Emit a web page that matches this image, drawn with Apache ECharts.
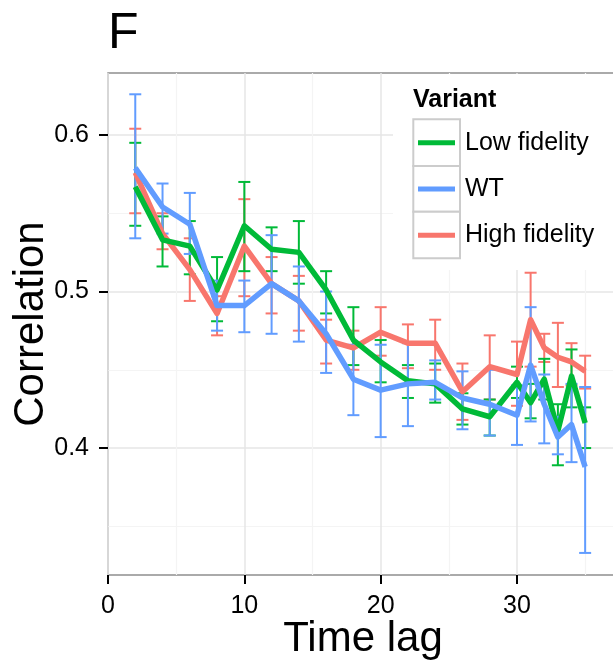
<!DOCTYPE html>
<html>
<head>
<meta charset="utf-8">
<script src="https://cdn.jsdelivr.net/npm/echarts@6/dist/echarts.min.js"></script>
<style>
html,body{margin:0;padding:0;background:#fff;}
#chart{width:613px;height:662px;}
</style>
</head>
<body>
<div id="chart"></div>
<script>
// ---- data ----
const timeLag = [2,4,6,8,10,12,14,16,18,20,22,24,26,28,30,31,32,33,34,35];

const lowMean = [0.567,0.533,0.529,0.501,0.542,0.527,0.525,0.501,0.469,0.455,0.443,0.441,0.425,0.420,0.442,0.429,0.444,0.411,0.446,0.416];
const lowLo   = [0.542,0.516,0.511,0.481,0.513,0.513,0.505,0.486,0.453,0.442,0.432,0.429,0.415,0.408,0.432,0.419,0.431,0.389,0.426,0.400];
const lowHi   = [0.595,0.548,0.545,0.522,0.570,0.541,0.545,0.513,0.490,0.469,0.453,0.454,0.435,0.431,0.452,0.441,0.457,0.428,0.463,0.426];

const wtMean = [0.579,0.554,0.543,0.491,0.491,0.505,0.494,0.473,0.444,0.437,0.441,0.442,0.432,0.428,0.421,0.453,0.428,0.407,0.415,0.388];
const wtLo   = [0.534,0.537,0.524,0.475,0.474,0.473,0.468,0.448,0.421,0.407,0.414,0.431,0.412,0.408,0.402,0.417,0.403,0.396,0.391,0.333];
const wtHi   = [0.626,0.569,0.563,0.507,0.507,0.536,0.516,0.500,0.466,0.466,0.467,0.456,0.449,0.450,0.440,0.490,0.447,0.420,0.441,0.439];

const highMean = [0.576,0.537,0.514,0.486,0.529,0.505,0.494,0.469,0.464,0.474,0.467,0.467,0.436,0.452,0.447,0.482,0.464,0.458,0.455,0.449];
const highLo   = [0.550,0.527,0.494,0.472,0.497,0.486,0.475,0.454,0.450,0.459,0.451,0.450,0.418,0.431,0.427,0.452,0.455,0.439,0.440,0.438];
const highHi   = [0.604,0.550,0.534,0.497,0.559,0.522,0.510,0.482,0.475,0.490,0.479,0.482,0.454,0.472,0.468,0.512,0.473,0.480,0.467,0.459];

const variantNames = ['Low fidelity','WT','High fidelity'];
const yMajorTicks = [0.4,0.5,0.6];
const yMinorTicks = [0.35,0.45,0.55];

// ---- style ----
const COLORS = {'Low fidelity':'#00BA38','WT':'#619CFF','High fidelity':'#F8766D'};
const FONT = "'Liberation Sans', Arial, sans-serif";
const Y_MIN = 0.3189, Y_MAX = 0.6396;

function pts(ys){ return timeLag.map((x,i)=>[x, ys[i]]); }
function bars(lo,hi){ return timeLag.map((x,i)=>[x, lo[i], hi[i]]); }

function errSeries(name, lo, hi){
  const color = COLORS[name];
  return {
    type:'custom', name: name + ' (error)', z:2, silent:true,
    encode:{x:0, y:[1,2]},
    data: bars(lo,hi),
    renderItem: function(params, api){
      const x = api.value(0);
      const a = api.coord([x, api.value(1)]);
      const b = api.coord([x, api.value(2)]);
      const hw = 6;
      const st = {stroke: color, lineWidth: 2};
      return {type:'group', children:[
        {type:'line', shape:{x1:a[0],y1:a[1],x2:b[0],y2:b[1]}, style:st},
        {type:'line', shape:{x1:a[0]-hw,y1:a[1],x2:a[0]+hw,y2:a[1]}, style:st},
        {type:'line', shape:{x1:b[0]-hw,y1:b[1],x2:b[0]+hw,y2:b[1]}, style:st}
      ]};
    }
  };
}
function lineSeries(name, ys){
  return {
    type:'line', name:name, z:2, silent:true, symbol:'none', animation:false,
    data: pts(ys),
    itemStyle:{color:COLORS[name]},
    lineStyle:{color:COLORS[name], width:5.5, join:'round'}
  };
}

const legendRowsCenter = [142.7, 189, 235.3];
const legends = variantNames.map((n,i)=>({
  data:[n], orient:'vertical', left:418, top: legendRowsCenter[i]-15,
  padding:0, icon:'rect', itemWidth:37, itemHeight:5, selectedMode:false,
  textStyle:{fontFamily:FONT, fontSize:25, color:'#000', lineHeight:30, padding:[0,0,0,5]}
}));

const chart = echarts.init(document.getElementById('chart'), null, {renderer:'canvas'});
chart.setOption({
  animation:false,
  backgroundColor:'#fff',
  textStyle:{fontFamily:FONT},
  grid:{left:108, top:73, width:510, height:502, show:true, borderColor:'#8f8f8f', borderWidth:1.5, backgroundColor:'#fff', containLabel:false, outerBoundsMode:'none'},
  xAxis:{
    type:'value', min:0, max:37.41, interval:10,
    name:'Time lag', nameLocation:'middle', nameGap:43, nameMoveOverlap:false,
    nameTextStyle:{fontFamily:FONT, fontSize:42, color:'#000'},
    axisLine:{show:false},
    axisTick:{show:true, length:9, lineStyle:{color:'#000', width:2}},
    axisLabel:{fontFamily:FONT, fontSize:25, color:'#000', margin:19, showMaxLabel:false},
    splitLine:{show:true, lineStyle:{color:'#e6e6e6', width:1.5}},
    minorTick:{show:false, splitNumber:2},
    minorSplitLine:{show:true, lineStyle:{color:'#f4f4f4', width:1.2}}
  },
  yAxis:[{
    type:'value', min:Y_MIN, max:Y_MAX,
    name:'Correlation', nameLocation:'middle', nameGap:56, nameRotate:90, nameMoveOverlap:false,
    nameTextStyle:{fontFamily:FONT, fontSize:42, color:'#000'},
    axisLine:{show:false},
    axisTick:{show:true, length:9, lineStyle:{color:'#000', width:2}, customValues:yMajorTicks},
    axisLabel:{fontFamily:FONT, fontSize:25, color:'#000', margin:19, customValues:yMajorTicks, formatter:v=>v.toFixed(1)},
    splitLine:{show:true, lineStyle:{color:'#e6e6e6', width:1.5}}
  },{
    type:'value', min:Y_MIN, max:Y_MAX, position:'right',
    axisLine:{show:false},
    axisTick:{show:false, customValues:yMinorTicks},
    axisLabel:{show:false, customValues:yMinorTicks},
    splitLine:{show:true, lineStyle:{color:'#f4f4f4', width:1.2}}
  }],
  legend: legends,
  graphic:[
    {type:'rect', z:3, silent:true, shape:{x:393, y:74, width:225, height:196}, style:{fill:'#fff'}},
    {type:'rect', z:3, silent:true, shape:{x:413.3, y:119.3, width:46.7, height:46.7}, style:{fill:'#fff', stroke:'#cccccc', lineWidth:2}},
    {type:'rect', z:3, silent:true, shape:{x:413.3, y:166, width:46.7, height:45.7}, style:{fill:'#fff', stroke:'#cccccc', lineWidth:2}},
    {type:'rect', z:3, silent:true, shape:{x:413.3, y:211.7, width:46.7, height:46.6}, style:{fill:'#fff', stroke:'#cccccc', lineWidth:2}},
    {type:'text', z:5, silent:true, style:{x:413, y:100, text:'Variant', font:"bold 25px 'Liberation Sans', Arial, sans-serif", fill:'#000', verticalAlign:'middle'}},
    {type:'text', z:5, silent:true, style:{x:108, y:34, text:'F', font:"50px 'Liberation Sans', Arial, sans-serif", fill:'#000', verticalAlign:'middle'}}
  ],
  series:[
    errSeries('High fidelity', highLo, highHi),
    errSeries('Low fidelity', lowLo, lowHi),
    errSeries('WT', wtLo, wtHi),
    lineSeries('High fidelity', highMean),
    lineSeries('Low fidelity', lowMean),
    lineSeries('WT', wtMean)
  ]
});
</script>
</body>
</html>
